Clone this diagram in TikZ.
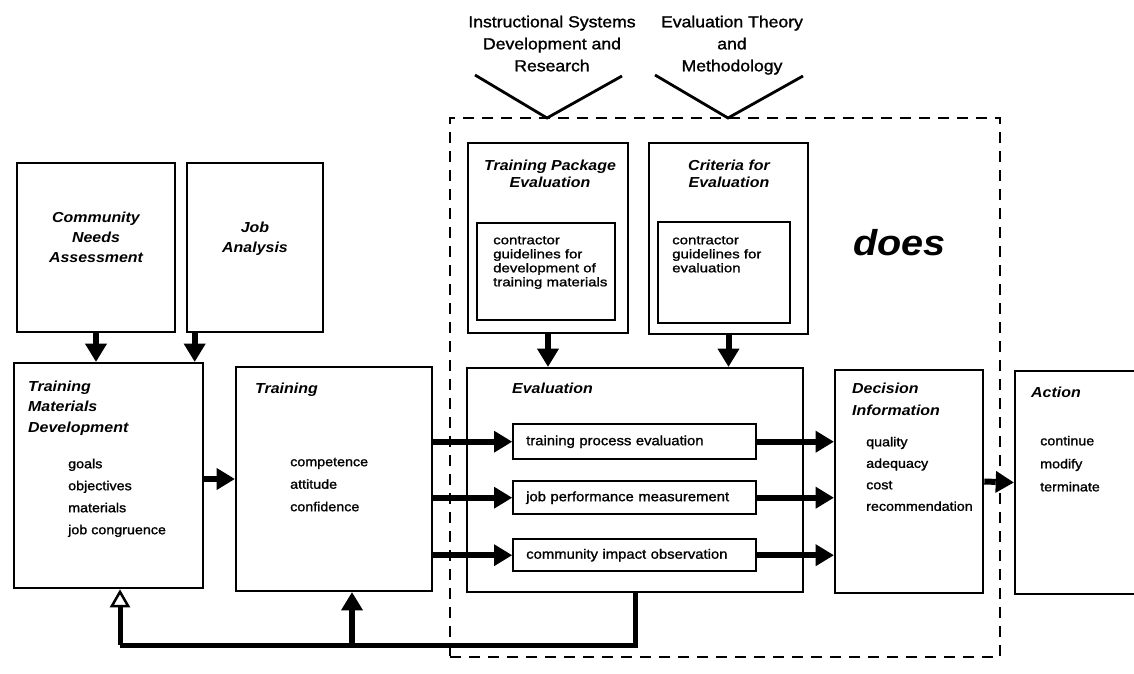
\documentclass[tikz,border=0pt]{standalone}
\usepackage{fontspec}
\setmainfont{Liberation Sans}[FakeStretch=1.1, UprightFeatures={FakeBold=1.3}]
\usetikzlibrary{arrows.meta,fit,calc}
\begin{document}
\begin{tikzpicture}[x=1pt,y=-1pt,
  box/.style={draw, line width=2.6pt, inner sep=0pt},
  dashframe/.style={draw, line width=2.4pt, dash pattern=on 11pt off 8pt, inner sep=0pt},
  ti/.style={inner sep=0pt, font=\fontsize{14.5}{20.5}\selectfont\bfseries\itshape},
  bd/.style={inner sep=0pt, font=\fontsize{13}{22}\selectfont},
  sub/.style={draw, line width=2.4pt, inner xsep=13pt, inner ysep=0pt, anchor=north west,
    minimum width=243pt, text width=217pt, align=left, font=\fontsize{13.5}{16}\selectfont},
  arr/.style={line width=6pt, -{Triangle[length=18pt,width=22pt,line width=0pt]}},
  openarr/.style={line width=5pt, -{Triangle[length=18pt,width=20pt,line width=2.5pt,fill=white]}},
  fbline/.style={line width=5pt},
  vline/.style={line width=2.8pt}
]
\useasboundingbox (0,0) rectangle (1134,673);

% dashed frame
\node[dashframe, fit={(450,118)(1000,657)}] (frame) {};

% top sources
\node[inner sep=0pt, align=center, anchor=north, font=\fontsize{16}{22}\selectfont] (isd) at (552,15.5)
  {Instructional Systems\\Development and\\Research};
\node[inner sep=0pt, align=center, anchor=north, font=\fontsize{16}{22}\selectfont] (etm) at (732,15.5)
  {Evaluation Theory\\and\\Methodology};
\coordinate (v1l) at (475,75); \coordinate (v1) at (547,118); \coordinate (v1r) at (622,76);
\coordinate (v2l) at (655,75); \coordinate (v2) at (728,118); \coordinate (v2r) at (803,76);
\draw[vline] (v1l) -- (v1) -- (v1r);
\draw[vline] (v2l) -- (v2) -- (v2r);

% left boxes
\node[box, fit={(17,163)(175,332)}] (cna) {};
\node[ti, align=center, anchor=north, font=\fontsize{14.5}{20}\selectfont\bfseries\itshape] (cnat) at (96,211.4)
  {Community\\Needs\\Assessment};
\node[box, fit={(187,163)(323,332)}] (ja) {};
\node[ti, align=center, anchor=north, font=\fontsize{14.5}{20}\selectfont\bfseries\itshape] (jat) at (255,221.4)
  {Job\\Analysis};

\node[box, fit={(14,363)(203,588)}] (tmd) {};
\node[ti, align=left, anchor=north west] (tmdt) at (28,380.4) {Training\\Materials\\Development};
\node[bd, align=left, anchor=north west] (tmdi) at (68,458.6) {goals\\objectives\\materials\\job congruence};

\node[box, fit={(236,367)(432,591)}] (trn) {};
\node[ti, anchor=base west] (trnt) at (255,393) {Training};
\node[bd, align=left, anchor=north west, font=\fontsize{13}{22.5}\selectfont] (trni) at (290,457.6) {competence\\attitude\\confidence};

% upper evaluation boxes
\node[box, fit={(468,143)(628,333)}] (tpe) {};
\node[ti, align=center, anchor=north, font=\fontsize{14.5}{17}\selectfont\bfseries\itshape] (tpet) at (550,159.4)
  {Training Package\\Evaluation};
\node[box, fit={(477,223)(615,320)}] (tpei) {};
\node[bd, align=left, anchor=north west, font=\fontsize{12.5}{14}\selectfont\addfontfeatures{FakeStretch=1.2}] (tpeit) at (493,236)
  {contractor\\guidelines for\\development of\\training materials};

\node[box, fit={(649,143)(808,334)}] (cfe) {};
\node[ti, align=center, anchor=north, font=\fontsize{14.5}{17}\selectfont\bfseries\itshape] (cfet) at (729,159.4)
  {Criteria for\\Evaluation};
\node[box, fit={(658,222)(790,323)}] (cfei) {};
\node[bd, align=left, anchor=north west, font=\fontsize{12.5}{14}\selectfont\addfontfeatures{FakeStretch=1.2}] (cfeit) at (672,236)
  {contractor\\guidelines for\\evaluation};

\node[inner sep=0pt, anchor=base west, font=\fontsize{36}{40}\selectfont\bfseries\itshape] (does) at (853,255) {does};

% evaluation
\node[box, fit={(467,368)(803,592)}] (eval) {};
\node[ti, anchor=base west] (evalt) at (512,393) {Evaluation};
\node[sub, minimum height=35pt] (s1) at (512,423) {training process evaluation};
\node[sub, minimum height=33pt] (s2) at (512,480) {job performance measurement};
\node[sub, minimum height=32pt] (s3) at (512,538) {community impact observation};

% decision, action
\node[box, fit={(835,370)(983,593)}] (dec) {};
\node[ti, align=left, anchor=north west, font=\fontsize{14.5}{22}\selectfont\bfseries\itshape] (dect) at (852,382.4) {Decision\\Information};
\node[bd, align=left, anchor=north west, font=\fontsize{13}{21.5}\selectfont] (deci) at (866,436.7) {quality\\adequacy\\cost\\recommendation};

\node[box, fit={(1015,371)(1150,594)}] (act) {};
\node[ti, anchor=base west] (actt) at (1031,397) {Action};
\node[bd, align=left, anchor=north west, font=\fontsize{13}{23}\selectfont] (acti) at (1040,435.7) {continue\\modify\\terminate};

% connectors
\draw[arr] (cna.south) -- (cna.south |- tmd.north);
\coordinate (jaout) at ($(ja.south west)+(9,0)$);
\draw[arr] (jaout) -- (jaout |- tmd.north);
\draw[arr] (tmd.east |- trn.west) -- (trn.west);
\draw[arr] (tpe.south) -- (tpe.south |- eval.north);
\draw[arr] (cfe.south) -- (cfe.south |- eval.north);
\foreach \s in {s1,s2,s3}{
  \draw[arr] (trn.east |- \s.west) -- (\s.west);
  \draw[arr] (\s.east) -- (\s.east -| dec.west);
}
\draw[arr] (dec.east) -- (act.west);

% feedback
\coordinate (fbL) at (120,645);
\coordinate (fbT) at (352,645);
\draw[fbline] (eval.south) |- (fbL);
\draw[openarr] (fbL) -- (fbL |- tmd.south);
\draw[arr] (fbT) -- (fbT |- trn.south);
\end{tikzpicture}
\end{document}
